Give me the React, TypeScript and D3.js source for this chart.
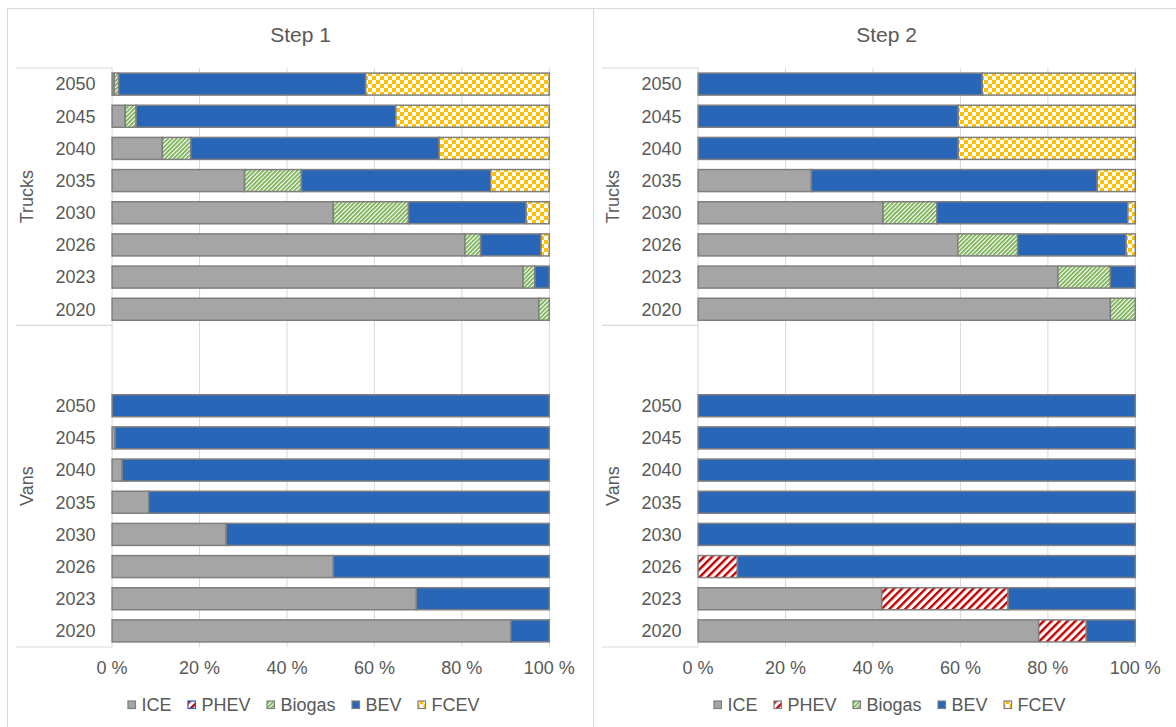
import React, { useMemo } from 'react';
import * as d3 from 'd3';

// Powertrain categories, in stacking order
const seriesNames = ['ICE', 'PHEV', 'Biogas', 'BEV', 'FCEV'];
const years = ['2050', '2045', '2040', '2035', '2030', '2026', '2023', '2020'];
const groupNames = ['Trucks', 'Vans'];
const stepTitles = ['Step 1', 'Step 2'];
const tickValues = [0, 20, 40, 60, 80, 100];

// Shares (%) per year; columns follow seriesNames
const step1Trucks = [
  [0.5, 0, 1.0, 56.5, 42.0],
  [3.0, 0, 2.5, 59.4, 35.1],
  [11.5, 0, 6.5, 56.8, 25.2],
  [30.3, 0, 13.0, 43.3, 13.4],
  [50.6, 0, 17.2, 26.9, 5.3],
  [80.7, 0, 3.6, 13.8, 1.9],
  [94.0, 0, 2.7, 3.3, 0],
  [97.6, 0, 2.4, 0, 0],
];
const step1Vans = [
  [0, 0, 0, 100, 0],
  [0.7, 0, 0, 99.3, 0],
  [2.3, 0, 0, 97.7, 0],
  [8.4, 0, 0, 91.6, 0],
  [26.1, 0, 0, 73.9, 0],
  [50.6, 0, 0, 49.4, 0],
  [69.6, 0, 0, 30.4, 0],
  [91.2, 0, 0, 8.8, 0],
];
const step2Trucks = [
  [0, 0, 0, 65.0, 35.0],
  [0, 0, 0, 59.5, 40.5],
  [0, 0, 0, 59.5, 40.5],
  [25.9, 0, 0, 65.4, 8.7],
  [42.3, 0, 12.3, 43.7, 1.7],
  [59.4, 0, 13.7, 24.8, 2.1],
  [82.3, 0, 12.0, 5.7, 0],
  [94.3, 0, 5.7, 0, 0],
];
const step2Vans = [
  [0, 0, 0, 100, 0],
  [0, 0, 0, 100, 0],
  [0, 0, 0, 100, 0],
  [0, 0, 0, 100, 0],
  [0, 0, 0, 100, 0],
  [0, 9.0, 0, 91.0, 0],
  [42.0, 28.9, 0, 29.1, 0],
  [77.9, 10.9, 0, 11.2, 0],
];

const panelData = [
  [step1Trucks, step1Vans],
  [step2Trucks, step2Vans],
];

const ICE_GRAY = '#a5a5a5';
const BEV_BLUE = '#2966b8';
const BIO_GREEN = '#70ad47';
const PHEV_RED = '#c00000';
const FCEV_YELLOW = '#ffc000';
const OUTLINE = '#7f7f7f';
const GRID = '#d9d9d9';
const TEXT = '#595959';
const FONT = '"Liberation Sans", Arial, sans-serif';

const fills: Record<string, string> = {
  ICE: ICE_GRAY,
  PHEV: 'url(#pat-phev)',
  Biogas: 'url(#pat-bio)',
  BEV: BEV_BLUE,
  FCEV: 'url(#pat-fcev)',
};

const W = 1176;
const H = 727;
const panelLefts = [7.5, 593.5];
const panelWidth = 586;
const plotOffset = 104.6;
const plotWidth = 437.2;
const boxOffset = 8.5;
const yTop = 68;
const yBottom = 647;

// Category slots: Trucks years, two empty slots opening the Vans group, Vans years
const slotKeys = [
  ...years.map((yr) => `Trucks-${yr}`),
  'Vans-gap1',
  'Vans-gap2',
  ...years.map((yr) => `Vans-${yr}`),
];

function measure(text: string, font: string) {
  const c = document.createElement('canvas').getContext('2d');
  if (!c) return text.length * 10;
  c.font = font;
  return c.measureText(text).width;
}

export default function App() {
  const y = d3
    .scaleBand<string>()
    .domain(slotKeys)
    .range([yTop, yBottom])
    .paddingInner(0.316)
    .paddingOuter(0.158);
  const step = y.step();
  const slotTop = (k: string) => (y(k) as number) - (step * y.paddingInner()) / 2;

  const groupSpans = groupNames.map((g) => {
    const keys = slotKeys.filter((k) => k.startsWith(g));
    return { name: g, top: slotTop(keys[0]), bottom: slotTop(keys[keys.length - 1]) + step };
  });

  const legendFont = `18px ${FONT}`;
  const legendItems = useMemo(() => {
    const sw = 8;
    const gapText = 6;
    const gapItem = 16;
    const widths = seriesNames.map((s) => measure(s, legendFont));
    const total =
      widths.reduce((a, b) => a + b, 0) + seriesNames.length * (sw + gapText) + gapItem * (seriesNames.length - 1);
    let x = -total / 2;
    return seriesNames.map((s, i) => {
      const item = { name: s, x };
      x += sw + gapText + widths[i] + gapItem;
      return item;
    });
  }, []);

  const stack = d3.stack<Record<string, number>>().keys(seriesNames);

  return (
    <svg
      width={W}
      height={H}
      style={{ position: 'absolute', left: 0, top: 0, background: '#fff' }}
      fontFamily={FONT}
    >
      <defs>
        <pattern id="pat-bio" patternUnits="userSpaceOnUse" width={3} height={3} patternTransform="rotate(45)">
          <rect width={3} height={3} fill="#fff" />
          <rect width={1.7} height={3} fill={BIO_GREEN} />
        </pattern>
        <pattern id="pat-phev" patternUnits="userSpaceOnUse" width={5.6} height={5.6} patternTransform="rotate(45)">
          <rect width={5.6} height={5.6} fill="#fff" />
          <rect width={2.4} height={5.6} fill={PHEV_RED} />
        </pattern>
        <pattern id="pat-fcev" patternUnits="userSpaceOnUse" width={8} height={8}>
          <rect width={8} height={8} fill="#fff" />
          <rect width={4} height={4} fill={FCEV_YELLOW} />
          <rect x={4} y={4} width={4} height={4} fill={FCEV_YELLOW} />
        </pattern>
      </defs>
      <rect width={W} height={H} fill="#fff" />

      {panelLefts.map((pl, pi) => {
        const x = d3
          .scaleLinear()
          .domain([0, 100])
          .range([pl + plotOffset, pl + plotOffset + plotWidth]);
        const boxLeft = pl + boxOffset;
        const center = pl + panelWidth / 2;
        return (
          <g key={pi}>
            <rect x={pl} y={8.5} width={panelWidth} height={H + 20} fill="none" stroke={GRID} strokeWidth={1} />
            <text x={center} y={42} textAnchor="middle" fontSize={21} fill={TEXT}>
              {stepTitles[pi]}
            </text>

            {/* gridlines */}
            {tickValues
              .filter((t) => t > 0)
              .map((t) => (
                <line key={t} x1={x(t)} x2={x(t)} y1={yTop} y2={yBottom} stroke={GRID} strokeWidth={1} />
              ))}
            {/* category axis */}
            <line x1={x(0)} x2={x(0)} y1={yTop} y2={yBottom} stroke={GRID} strokeWidth={1} />
            {[yTop, groupSpans[0].bottom, yBottom].map((yy, i) => (
              <line key={i} x1={boxLeft} x2={x(0)} y1={yy} y2={yy} stroke={GRID} strokeWidth={1.2} />
            ))}

            {groupSpans.map((gs) => (
              <text
                key={gs.name}
                transform={`translate(${boxLeft + 11},${(gs.top + gs.bottom) / 2}) rotate(-90)`}
                textAnchor="middle"
                dy="0.35em"
                fontSize={18}
                fill={TEXT}
              >
                {gs.name}
              </text>
            ))}

            {groupNames.map((g, gi) => {
              const rows = panelData[pi][gi].map((r) => {
                const o: Record<string, number> = {};
                seriesNames.forEach((s, si) => (o[s] = r[si]));
                return o;
              });
              const layers = stack(rows);
              return (
                <g key={g}>
                  {years.map((yr) => (
                    <text
                      key={yr}
                      x={x(0) - 16.5}
                      y={(y(`${g}-${yr}`) as number) + y.bandwidth() / 2}
                      dy="0.35em"
                      textAnchor="end"
                      fontSize={18}
                      fill={TEXT}
                    >
                      {yr}
                    </text>
                  ))}
                  {layers.map((layer) =>
                    layer.map((d, i) =>
                      d[1] - d[0] > 0 ? (
                        <rect
                          key={`${layer.key}-${i}`}
                          x={x(d[0])}
                          y={y(`${g}-${years[i]}`)}
                          width={x(d[1]) - x(d[0])}
                          height={y.bandwidth()}
                          fill={fills[layer.key]}
                          stroke={OUTLINE}
                          strokeWidth={1.5}
                        />
                      ) : null
                    )
                  )}
                </g>
              );
            })}

            {tickValues.map((t) => (
              <text key={t} x={x(t)} y={674} textAnchor="middle" fontSize={18} fill={TEXT}>
                {`${t} %`}
              </text>
            ))}

            <g transform={`translate(${center + 3},0)`}>
              {legendItems.map((it) => (
                <g key={it.name}>
                  <rect
                    x={it.x + 0.5}
                    y={701}
                    width={7.5}
                    height={7.5}
                    fill={fills[it.name]}
                    stroke={it.name === 'PHEV' && pi === 0 ? BEV_BLUE : OUTLINE}
                    strokeWidth={1.2}
                  />
                  <text x={it.x + 14} y={711} fontSize={18} fill={TEXT}>
                    {it.name}
                  </text>
                </g>
              ))}
            </g>
          </g>
        );
      })}
    </svg>
  );
}
